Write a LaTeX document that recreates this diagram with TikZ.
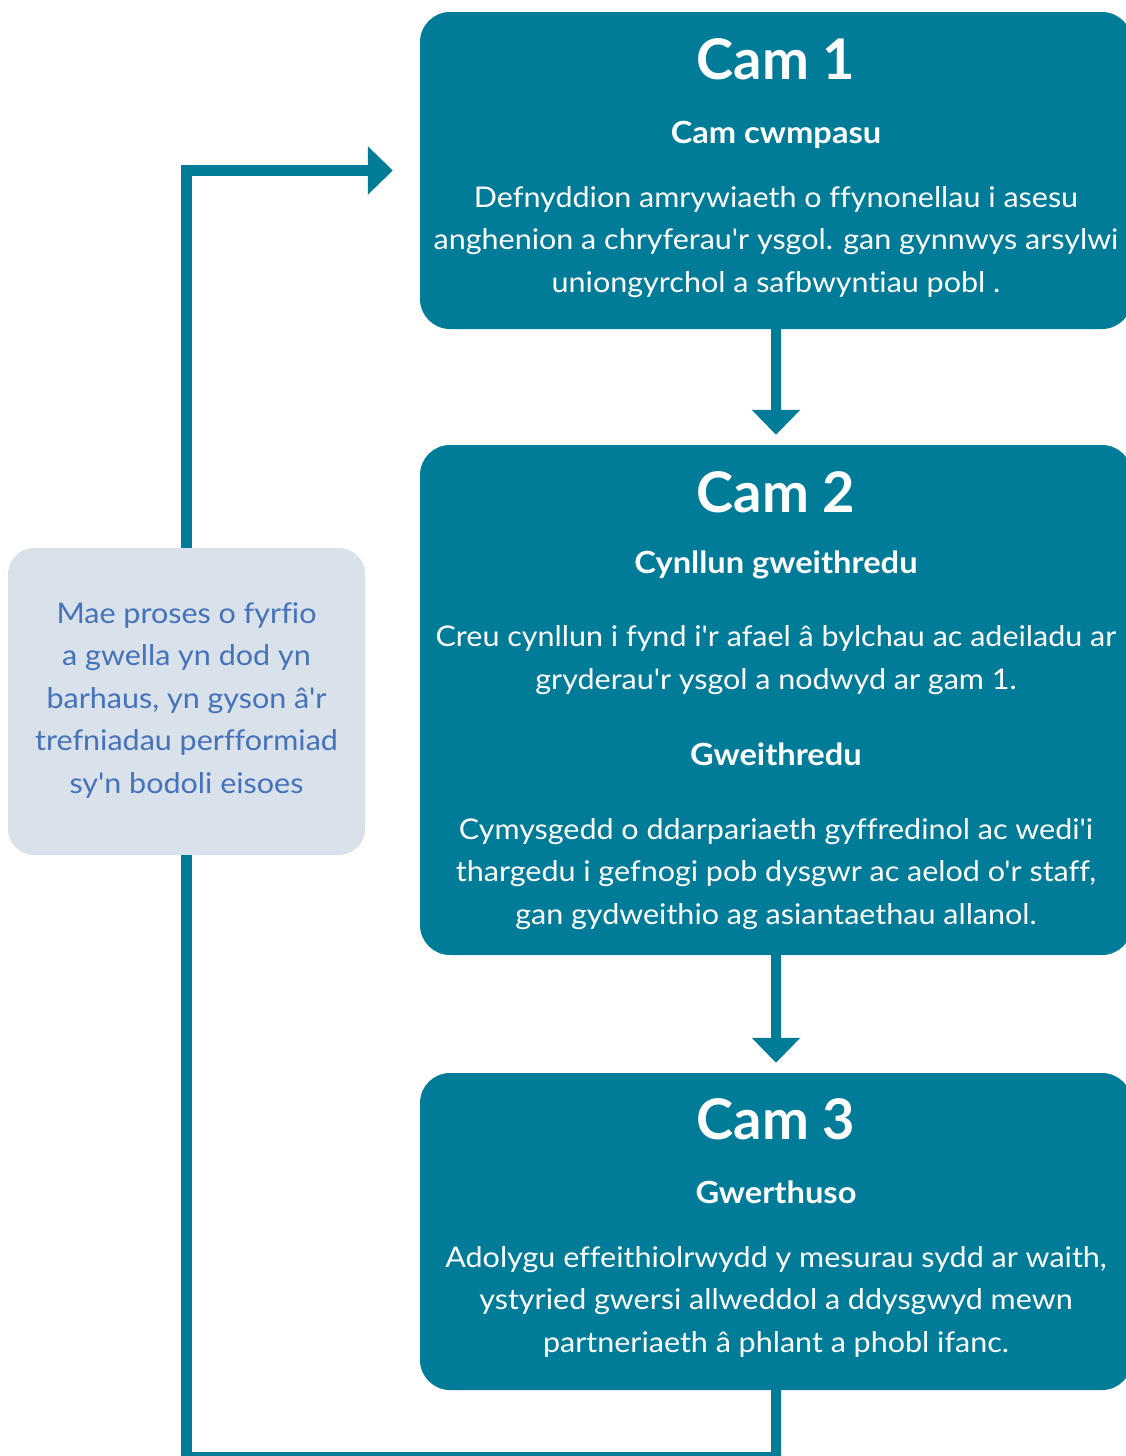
\documentclass[tikz,border=0pt]{standalone}
\usepackage{fontspec}
\setmainfont{Lato}[Ligatures={TeXOff,NoCommon}]
\newfontfamily\stretchfont{Lato}[Ligatures={TeXOff,NoCommon}, FakeStretch=1.07]
\usetikzlibrary{arrows.meta}
\definecolor{tealbox}{HTML}{007C98}
\definecolor{notefill}{HTML}{D9E1EA}
\definecolor{notetext}{HTML}{4672BA}
\begin{document}
\begin{tikzpicture}[x=1pt,y=-1pt,
  stage/.style={fill=tealbox, draw=none, rounded corners=30pt, inner sep=0pt},
  notebox/.style={fill=notefill, draw=none, rounded corners=26pt, inner sep=0pt},
  titletext/.style={anchor=base, text=white, inner sep=0pt, font=\bfseries\fontsize{56}{60}\selectfont},
  subtext/.style={anchor=base, text=white, inner sep=0pt, font=\stretchfont\bfseries\fontsize{30.5}{35}\selectfont},
  bodytext/.style={anchor=base, text=white, inner sep=0pt, align=center, font=\stretchfont\fontsize{28.5}{42.5}\selectfont},
  notetxt/.style={anchor=base, text=notetext, inner sep=0pt, align=center, font=\stretchfont\fontsize{28.5}{42.5}\selectfont},
  conn/.style={draw=tealbox, line width=10.5pt},
  tip/.style={-{Triangle[length=25pt,width=47pt]}}
]
\useasboundingbox (0,0) rectangle (1125,1456);

% boxes
\node[stage, minimum width=712pt, minimum height=317pt] (box1) at (776,170.5) {};
\node[stage, minimum width=712pt, minimum height=510pt] (box2) at (776,700) {};
\node[stage, minimum width=712pt, minimum height=317pt] (box3) at (776,1231.5) {};
\node[notebox, minimum width=357pt, minimum height=307pt] (note) at (186.5,701.5) {};

% texts box 1 (multi-line nodes: base = last line)
\node[titletext] (t1) at (776,79) {Cam 1};
\node[subtext] (s1) at (776,143) {Cam cwmpasu};
\node[bodytext] (b1) at (776,292) {Defnyddion amrywiaeth o ffynonellau i asesu\\anghenion a chryferau'r ysgol. gan gynnwys arsylwi\\uniongyrchol a safbwyntiau pobl .};

% texts box 2
\node[titletext] (t2) at (776,512) {Cam 2};
\node[subtext] (s2) at (776,573) {Cynllun gweithredu};
\node[bodytext] (b2) at (776,689) {Creu cynllun i fynd i'r afael â bylchau ac adeiladu ar\\gryderau'r ysgol a nodwyd ar gam 1.};
\node[subtext] (s2b) at (776,765) {Gweithredu};
\node[bodytext] (b2b) at (776,924) {Cymysgedd o ddarpariaeth gyffredinol ac wedi'i\\thargedu i gefnogi pob dysgwr ac aelod o'r staff,\\gan gydweithio ag asiantaethau allanol.};

% texts box 3
\node[titletext] (t3) at (776,1139) {Cam 3};
\node[subtext] (s3) at (776,1203) {Gwerthuso};
\node[bodytext] (b3) at (776,1352) {Adolygu effeithiolrwydd y mesurau sydd ar waith,\\ystyried gwersi allweddol a ddysgwyd mewn\\partneriaeth â phlant a phobl ifanc.};

% note text
\node[notetxt] (nt) at (186.5,793) {Mae proses o fyrfio\\a gwella yn dod yn\\barhaus, yn gyson â'r\\trefniadau perfformiad\\sy'n bodoli eisoes};

% connectors
\draw[conn, tip, shorten >=10pt] (box1.south) -- (box2.north);
\draw[conn, tip, shorten >=10pt] (box2.south) -- (box3.north);
\draw[conn, tip, shorten >=27pt] (note.north) |- (box1.west);
\coordinate (loopbot) at (776,1457);
\draw[conn] (box3.south) -- (loopbot) -| (note.south);
\end{tikzpicture}
\end{document}
